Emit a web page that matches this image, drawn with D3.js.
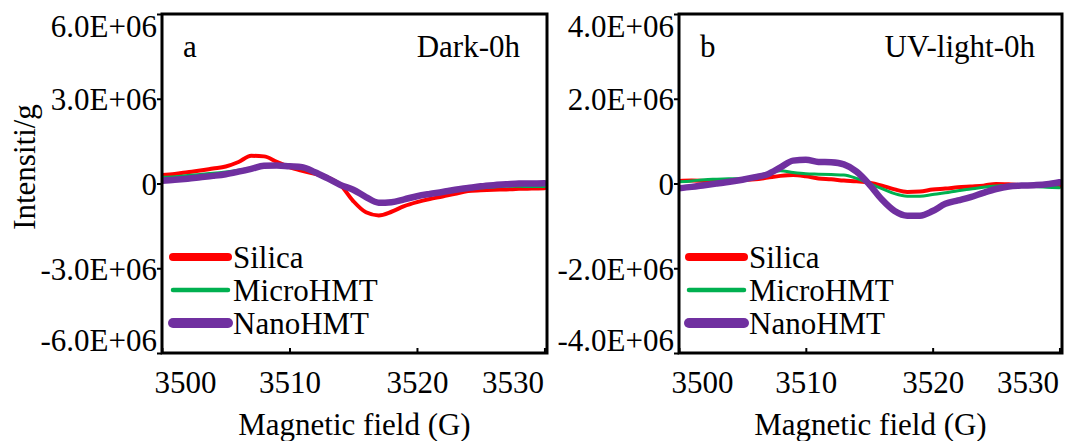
<!DOCTYPE html>
<html><head><meta charset="utf-8">
<script src="https://cdn.jsdelivr.net/npm/d3@7/dist/d3.min.js"></script>
<style>
body{margin:0;background:#fff}
svg{display:block}
text{font-family:"Liberation Serif","Times New Roman",serif;fill:#000}
</style>
</head><body>
<svg id="chart" width="1067" height="441"></svg>
<script>
// ---- data (intensity values in units of 1E+06) ----
const field = [3500,3501,3502,3503,3504,3505,3506,3507,3508,3509,3510,3511,3512,3513,3514,3515,
               3516,3517,3518,3519,3520,3521,3522,3523,3524,3525,3526,3527,3528,3529,3530];

const silicaDark = [0.30,0.34,0.40,0.46,0.53,0.60,0.76,0.98,0.96,0.77,0.58,0.45,0.34,0.22,-0.05,-0.62,
                    -1.02,-1.13,-1.00,-0.80,-0.66,-0.55,-0.46,-0.36,-0.27,-0.24,-0.22,-0.21,-0.19,-0.18,-0.17];
const microDark  = [0.22,0.24,0.28,0.32,0.36,0.41,0.47,0.55,0.62,0.62,0.58,0.52,0.38,0.18,-0.05,-0.24,
                    -0.48,-0.67,-0.66,-0.57,-0.47,-0.40,-0.33,-0.26,-0.20,-0.15,-0.12,-0.10,-0.10,-0.11,-0.11];
const nanoDark   = [0.10,0.13,0.17,0.22,0.27,0.33,0.42,0.52,0.63,0.64,0.61,0.58,0.40,0.18,-0.05,-0.22,
                    -0.48,-0.68,-0.66,-0.56,-0.45,-0.37,-0.30,-0.22,-0.16,-0.10,-0.06,-0.03,0.00,0.00,0.01];

const silicaUV = [0.06,0.07,0.06,0.05,0.06,0.08,0.10,0.14,0.18,0.20,0.17,0.12,0.10,0.07,0.05,0.02,
                  -0.05,-0.14,-0.20,-0.19,-0.14,-0.12,-0.09,-0.07,-0.05,-0.01,-0.02,-0.04,-0.05,-0.06,-0.07];
const microUV  = [0.04,0.06,0.09,0.10,0.11,0.12,0.16,0.24,0.30,0.26,0.23,0.22,0.21,0.20,0.12,0.00,
                  -0.12,-0.24,-0.30,-0.30,-0.26,-0.22,-0.17,-0.13,-0.09,-0.06,-0.04,-0.05,-0.07,-0.09,-0.10];
const nanoUV   = [-0.11,-0.08,-0.04,0.00,0.04,0.09,0.15,0.22,0.38,0.54,0.56,0.51,0.50,0.45,0.28,-0.02,
                  -0.38,-0.65,-0.76,-0.76,-0.65,-0.48,-0.40,-0.32,-0.22,-0.13,-0.07,-0.05,-0.04,-0.02,0.03];

const seriesNames = ["Silica","MicroHMT","NanoHMT"];
const seriesColors = ["#FF0000","#00B050","#7030A0"];
const unit = 1e6;

const xTicks = [3500,3510,3520,3530];
const yTicksA = [-6e6,-3e6,0,3e6,6e6];
const yTickLabelsA = ["-6.0E+06","-3.0E+06","0","3.0E+06","6.0E+06"];
const yTicksB = [-4e6,-2e6,0,2e6,4e6];
const yTickLabelsB = ["-4.0E+06","-2.0E+06","0","2.0E+06","4.0E+06"];

const panelLetters = ["a","b"];
const panelTitles = ["Dark-0h","UV-light-0h"];
const xTitle = "Magnetic field (G)";
const yTitle = "Intensiti/g";

// ---- layout ----
const svg = d3.select("#chart");
const FS = 31;
const panels = [
  {left:162,right:547,top:14,bottom:353,yMax:6e6,yTicks:yTicksA,yLabels:yTickLabelsA,
   series:[silicaDark,microDark,nanoDark],legendX:173,letter:panelLetters[0],title:panelTitles[0]},
  {left:679,right:1062,top:14,bottom:353,yMax:4e6,yTicks:yTicksB,yLabels:yTickLabelsB,
   series:[silicaUV,microUV,nanoUV],legendX:689,letter:panelLetters[1],title:panelTitles[1]}
];
const lineWidths = [4,3,6.5];
const legendWidths = [8,4.5,10];

panels.forEach((p,pi)=>{
  const x = d3.scaleLinear().domain([3500,3530.2]).range([p.left,p.right]);
  const y = d3.scaleLinear().domain([-p.yMax,p.yMax]).range([p.bottom,p.top]);
  const g = svg.append("g");

  const cid = "clip"+pi;
  svg.append("clipPath").attr("id",cid).append("rect")
    .attr("x",p.left).attr("y",p.top).attr("width",p.right-p.left).attr("height",p.bottom-p.top);

  const line = d3.line().x((d,i)=>x(field[i])).y(d=>y(d*unit)).curve(d3.curveMonotoneX);
  p.series.forEach((s,si)=>{
    g.append("path").attr("clip-path",`url(#${cid})`).datum(s).attr("d",line)
      .attr("fill","none").attr("stroke",seriesColors[si]).attr("stroke-width",lineWidths[si])
      .attr("stroke-linejoin","round").attr("stroke-linecap","round");
  });

  const ya = g.append("g").attr("transform",`translate(${p.left},0)`)
    .call(d3.axisLeft(y).tickValues(p.yTicks).tickFormat((d,i)=>p.yLabels[i]).tickSize(5).tickSizeOuter(0));
  ya.select(".domain").remove();
  ya.selectAll("line").attr("stroke","#000").attr("stroke-width",2);
  ya.selectAll("text").attr("font-size",FS).attr("x",-5).attr("dy","0.35em")
    .attr("font-family","Liberation Serif, Times New Roman, serif")
    .attr("transform",(d)=> d===p.yMax ? "translate(0,12)" : d===-p.yMax ? "translate(0,-13)" : null);

  const xa = g.append("g").attr("transform",`translate(0,${p.bottom})`)
    .call(d3.axisBottom(x).tickValues(xTicks).tickFormat(d3.format("d")).tickSize(-5).tickSizeOuter(0));
  xa.select(".domain").remove();
  xa.selectAll("line").attr("stroke","#000").attr("stroke-width",2);
  xa.selectAll("text").attr("font-size",FS).attr("y",40).attr("dy",0)
    .attr("font-family","Liberation Serif, Times New Roman, serif")
    .attr("transform",(d)=> d===3500 ? "translate(23,0)" : d===3530 ? "translate(-32,0)" : null);

  g.append("rect").attr("x",p.left).attr("y",p.top).attr("width",p.right-p.left).attr("height",p.bottom-p.top)
    .attr("fill","none").attr("stroke","#000").attr("stroke-width",3);

  g.append("text").attr("x",p.left+21).attr("y",57).attr("font-size",FS).text(p.letter);
  g.append("text").attr("x",p.right-27).attr("y",57).attr("font-size",FS).attr("text-anchor","end").text(p.title);

  seriesNames.forEach((nm,si)=>{
    const ly = 257 + si*33;
    g.append("line").attr("x1",p.legendX).attr("x2",p.legendX+55).attr("y1",ly).attr("y2",ly)
      .attr("stroke",seriesColors[si]).attr("stroke-width",legendWidths[si]).attr("stroke-linecap","round");
    g.append("text").attr("x",p.legendX+60).attr("y",ly).attr("dy","0.35em").attr("font-size",FS).text(nm);
  });

  g.append("text").attr("x",(p.left+p.right)/2).attr("y",435).attr("text-anchor","middle")
    .attr("font-size",FS).text(xTitle);
});

svg.append("text").attr("transform","translate(35,167) rotate(-90)").attr("text-anchor","middle")
  .attr("font-size",FS).text(yTitle);
</script>
</body></html>
